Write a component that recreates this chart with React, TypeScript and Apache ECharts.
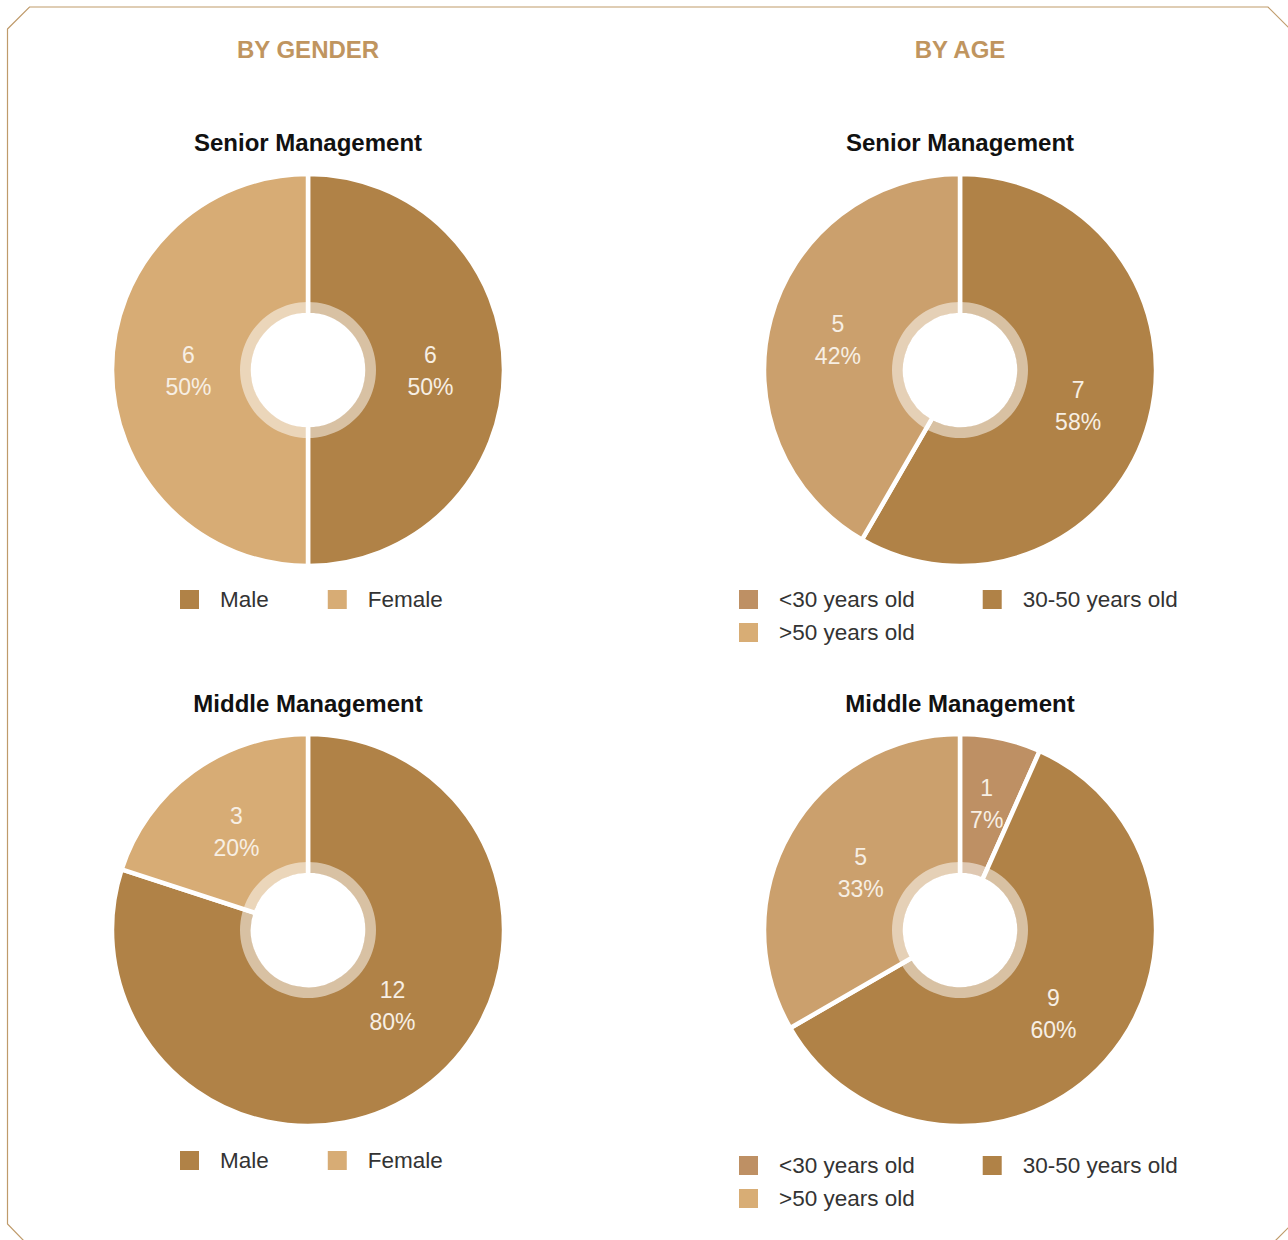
import React, { useEffect, useRef } from "react";
import * as echarts from "echarts";

const sectionTitles = ["BY GENDER", "BY AGE"];
const chartTitles = ["Senior Management", "Middle Management"];
const genderNames = ["Male", "Female"];
const seniorGender = [6, 6];
const middleGender = [12, 3];
const ageNames = ["<30 years old", "30-50 years old", ">50 years old"];
const seniorAge = [0, 7, 5];
const middleAge = [1, 9, 5];
const genderColors = ["#B08247", "#D7AC75"];
const ageColors = ["#BE9064", "#B08247", "#CBA06D"];
const ageLegendColors = ["#BE9064", "#B08247", "#D8AD75"];

// small layout nudges for the in-slice labels (layout only, not data)
const nudgeSeniorGender = [[-6, 1], [9, 1]];
const nudgeSeniorAge = [[0, 0], [-6, 3], [2, 3]];
const nudgeMiddleGender = [[9, -28], [4, 6]];
const nudgeMiddleAge = [[0, 0], [-2, -2], [12, 7]];

const FONT = "'Liberation Sans', Arial, Helvetica, sans-serif";

function makePie(
  names: string[],
  values: number[],
  colors: string[],
  center: [number, number],
  nudges: number[][]
) {
  return [
    {
      type: "pie",
      center,
      radius: [55, 196],
      startAngle: 90,
      clockwise: true,
      percentPrecision: 0,
      avoidLabelOverlap: false,
      silent: true,
      itemStyle: { borderColor: "#ffffff", borderWidth: 4.5 },
      label: {
        show: true,
        position: "inside",
        formatter: "{c}\n{d}%",
        color: "#F7EFE4",
        fontFamily: FONT,
        fontSize: 23,
        lineHeight: 32,
        fontWeight: "normal",
      },
      labelLine: { show: false },
      data: names.map((n, i) => ({
        name: n,
        value: values[i],
        itemStyle: { color: colors[i] },
        label: values[i] === 0 ? { show: false } : { offset: nudges[i] },
      })),
    },
    {
      type: "pie",
      center,
      radius: [57, 68],
      silent: true,
      label: { show: false },
      labelLine: { show: false },
      itemStyle: { color: "rgba(255,255,255,0.5)" },
      data: [{ value: 1, name: "__ring" }],
    },
  ];
}

function legendBase(left: number, top: number, names: string[], colors: string[], gap: number) {
  return {
    left,
    top,
    orient: "horizontal",
    icon: "rect",
    itemWidth: 21,
    itemHeight: 21,
    itemGap: gap,
    padding: 0,
    selectedMode: false,
    textStyle: {
      fontFamily: FONT,
      fontSize: 22.5,
      color: "#333333",
      padding: [0, 0, 0, 15],
      lineHeight: 22,
    },
    data: names.map((n, i) => ({ name: n, itemStyle: { color: colors[i] } })),
  };
}

export default function App() {
  const ref = useRef<HTMLDivElement>(null);
  useEffect(() => {
    if (!ref.current) return;
    const chart = echarts.init(ref.current, null, { renderer: "svg" });
    const series = [
      ...makePie(genderNames, seniorGender, genderColors, [308, 370], nudgeSeniorGender),
      ...makePie(ageNames, seniorAge, ageColors, [960, 370], nudgeSeniorAge),
      ...makePie(genderNames, middleGender, genderColors, [308, 930], nudgeMiddleGender),
      ...makePie(ageNames, middleAge, ageColors, [960, 930], nudgeMiddleAge),
    ];
    const titleText = (text: string, x: number, y: number, color: string, size: number) => ({
      type: "text",
      x,
      y,
      silent: true,
      style: {
        text,
        fill: color,
        font: `bold ${size}px ${FONT}`,
        align: "center",
        verticalAlign: "middle",
      },
    });
    chart.setOption({
      animation: false,
      backgroundColor: "#ffffff",
      graphic: [
        {
          type: "polygon",
          silent: true,
          shape: {
            points: [
              [7.5, 29],
              [29.5, 7],
              [1268, 7],
              [1291, 30],
              [1291, 1225],
              [1274, 1242],
              [25, 1242],
              [7.5, 1224],
            ],
          },
          style: { fill: "none", stroke: "#BF9B6B", lineWidth: 1.2 },
        },
        titleText(sectionTitles[0], 308, 49, "#C0955F", 24),
        titleText(sectionTitles[1], 960, 49, "#C0955F", 24),
        titleText(chartTitles[0], 308, 142, "#111111", 24),
        titleText(chartTitles[0], 960, 142, "#111111", 24),
        titleText(chartTitles[1], 308, 703, "#111111", 24),
        titleText(chartTitles[1], 960, 703, "#111111", 24),
      ],
      legend: [
        legendBase(178, 588, genderNames, genderColors, 57),
        legendBase(178, 1149, genderNames, genderColors, 57),
        legendBase(737, 588, ageNames.slice(0, 2), ageLegendColors.slice(0, 2), 66),
        legendBase(737, 621, ageNames.slice(2), ageLegendColors.slice(2), 66),
        legendBase(737, 1154, ageNames.slice(0, 2), ageLegendColors.slice(0, 2), 66),
        legendBase(737, 1187, ageNames.slice(2), ageLegendColors.slice(2), 66),
      ],
      series,
    });
    return () => chart.dispose();
  }, []);
  return (
    <div
      ref={ref}
      style={{ position: "absolute", left: 0, top: 0, width: 1288, height: 1240 }}
    />
  );
}
